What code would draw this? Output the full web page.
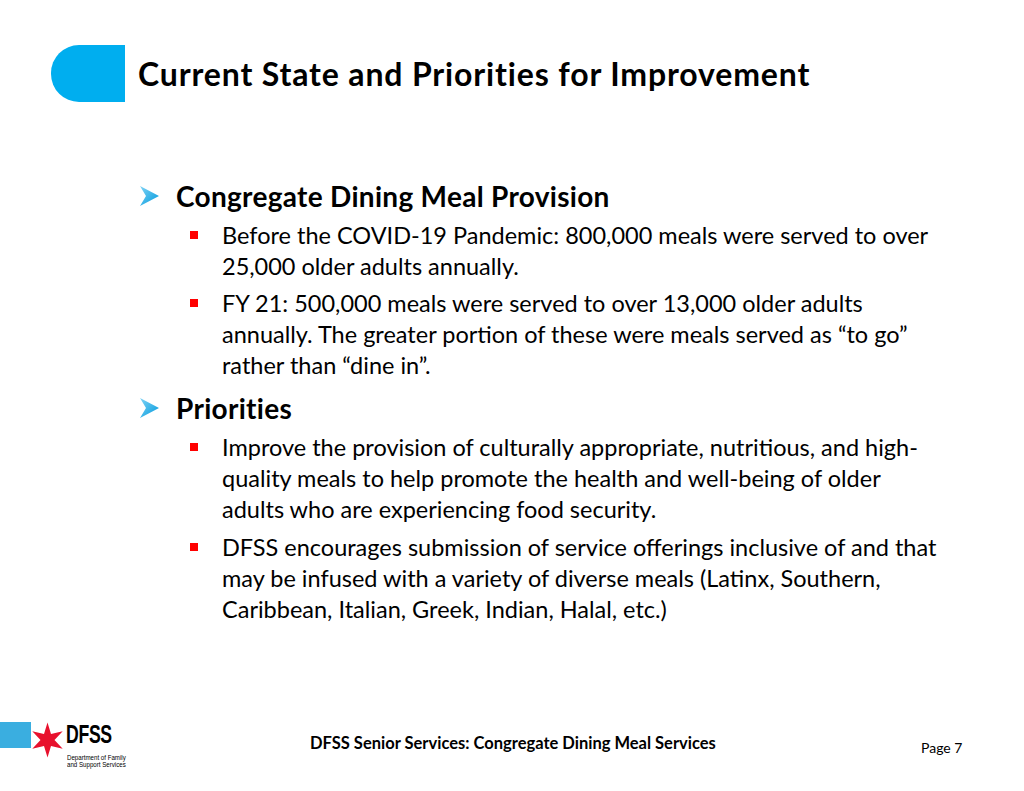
<!DOCTYPE html>
<html>
<head>
<meta charset="utf-8">
<script src="https://cdn.jsdelivr.net/npm/chart.js@4.4.1/dist/chart.umd.min.js"></script>
<style>
  html, body { margin: 0; padding: 0; background: #fff; }
  body { width: 1024px; height: 791px; position: relative; overflow: hidden; font-family: Lato, "Open Sans", sans-serif; color: #000; }
  .abs { position: absolute; white-space: nowrap; }
  #tab { left: 51px; top: 45px; width: 74px; height: 57px; background: #00AEEF; border-radius: 28px 0 0 28px; }
  #title { left: 138px; top: 54px; font-size: 32px; font-weight: 700; line-height: 40px; letter-spacing: 0.85px; }
  .h1 { font-size: 28px; font-weight: 700; line-height: 32px; letter-spacing: 0.3px; }
  .txt { font-size: 23.5px; line-height: 31px; }
  .sq { width: 8px; height: 8px; background: #FF0000; }
  #footer { left: 310px; top: 732px; font-size: 16.5px; font-weight: 700; line-height: 22px; }
  #page { left: 921px; top: 739px; font-size: 14px; line-height: 18px; }
  #logoBar { left: 0; top: 722px; width: 31px; height: 26px; background: #3AAEE0; }
  #dfss { left: 66px; top: 720px; font-family: "Liberation Sans", sans-serif; font-weight: 700; font-size: 26px; line-height: 28px; letter-spacing: -0.5px; transform: scaleX(0.68); transform-origin: left top; }
  .small { font-family: "Liberation Sans", sans-serif; font-size: 7.5px; line-height: 8px; left: 67px; transform: scaleX(0.82); transform-origin: left top; }
</style>
</head>
<body>
<div id="tab" class="abs"></div>
<div id="title" class="abs"></div>

<svg class="abs" style="left:0;top:0" width="1024" height="791">
  <defs>
    <linearGradient id="ag" x1="0" y1="0" x2="1" y2="1">
      <stop offset="0" stop-color="#7FD3F5"/>
      <stop offset="1" stop-color="#0099DD"/>
    </linearGradient>
  </defs>
  <g id="arrows"></g>
  <polygon id="star" fill="#E8112D" points=""/>
</svg>

<div id="content"></div>

<div id="logoBar" class="abs"></div>
<div id="dfss" class="abs">DFSS</div>
<div class="abs small" style="top:754px">Department of Family</div>
<div class="abs small" style="top:761px">and Support Services</div>

<div id="footer" class="abs"></div>
<div id="page" class="abs"></div>

<script>
// ---- slide content ----
const slideTitle = "Current State and Priorities for Improvement";
const sectionHeadings = ["Congregate Dining Meal Provision", "Priorities"];
const sectionTops = [196, 408];           // vertical centre of each heading
const bulletLines = [
  // [section index, line centre y, lines of text]
  [0, 236, ["Before the COVID-19 Pandemic: 800,000 meals were served to over", "25,000 older adults annually."]],
  [0, 304, ["FY 21: 500,000 meals were served to over 13,000 older adults", "annually. The greater portion of these were meals served as \u201cto go\u201d", "rather than \u201cdine in\u201d."]],
  [1, 448, ["Improve the provision of culturally appropriate, nutritious, and high-", "quality meals to help promote the health and well-being of older", "adults who are experiencing food security."]],
  [1, 548, ["DFSS encourages submission of service offerings inclusive of and that", "may be infused with a variety of diverse meals (Latinx, Southern,", "Caribbean, Italian, Greek, Indian, Halal, etc.)"]]
];
const footerText = "DFSS Senior Services: Congregate Dining Meal Services";
const pageText = "Page 7";

document.getElementById('title').textContent = slideTitle;
document.getElementById('footer').textContent = footerText;
document.getElementById('page').textContent = pageText;

const content = document.getElementById('content');
const arrows = document.getElementById('arrows');
const NS = "http://www.w3.org/2000/svg";

sectionHeadings.forEach((h, i) => {
  const cy = sectionTops[i];
  const d = document.createElement('div');
  d.className = 'abs h1';
  d.style.left = '176px';
  d.style.top = (cy - 16) + 'px';
  d.textContent = h;
  content.appendChild(d);
  const p = document.createElementNS(NS, 'polygon');
  const x0 = 140, y0 = cy;
  p.setAttribute('points', `${x0},${y0-10} ${x0+19},${y0} ${x0},${y0+10} ${x0+6},${y0}`);
  p.setAttribute('fill', 'url(#ag)');
  arrows.appendChild(p);
});

bulletLines.forEach(([s, cy, lines]) => {
  const sq = document.createElement('div');
  sq.className = 'abs sq';
  sq.style.left = '190px';
  sq.style.top = (cy - 5) + 'px';
  content.appendChild(sq);
  lines.forEach((t, k) => {
    const d = document.createElement('div');
    d.className = 'abs txt';
    d.style.left = '222px';
    d.style.top = (cy - 16 + k * 31) + 'px';
    d.textContent = t;
    content.appendChild(d);
  });
});

// six-pointed star
(function(){
  const cx = 47.5, cy = 740, R = 17.5, r = 7, pts = [];
  for (let i = 0; i < 12; i++) {
    const a = -Math.PI/2 + i * Math.PI/6;
    const rad = i % 2 ? r : R;
    pts.push((cx + rad*Math.cos(a)).toFixed(1) + ',' + (cy + rad*Math.sin(a)).toFixed(1));
  }
  document.getElementById('star').setAttribute('points', pts.join(' '));
})();
</script>
</body>
</html>
